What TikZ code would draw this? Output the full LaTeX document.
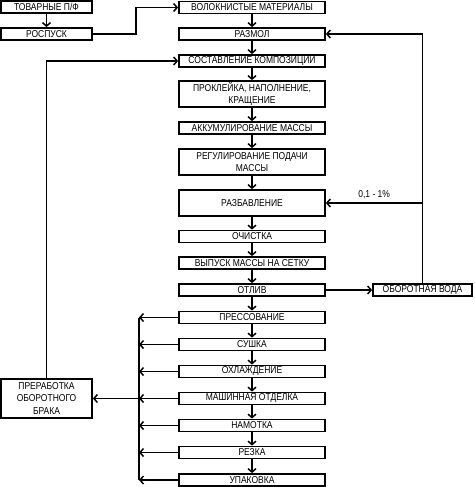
\documentclass[tikz,border=0pt]{standalone}
\usepackage{fontspec}
\setmainfont{Liberation Sans}[FakeStretch=0.85]
\usetikzlibrary{arrows.meta,positioning,calc}

\begin{document}
\begin{tikzpicture}[
  x=1pt,y=-1pt,
  font=\fontsize{10}{12.5}\selectfont,
  stage/.style={draw=black,line width=1.8pt,fill=white,align=center,inner sep=1pt,minimum width=146pt,minimum height=12pt},
  stage2/.style={stage,minimum height=26pt},
  side/.style={stage,minimum width=91pt},
  fl/.style={-{Straight Barb[length=3.5pt,width=8pt]},line width=1.5pt},
  ln/.style={line width=1.5pt}
]
\useasboundingbox (0,0) rectangle (474,487);
% main line
\node[stage] (vol) at (252,7.5) {ВОЛОКНИСТЫЕ МАТЕРИАЛЫ};
\node[stage] (razmol) at (252,34) {РАЗМОЛ};
\node[stage] (sostav) at (252,61) {СОСТАВЛЕНИЕ КОМПОЗИЦИИ};
\node[stage2] (prokl) at (252,94) {ПРОКЛЕЙКА, НАПОЛНЕНИЕ,\\КРАЩЕНИЕ};
\node[stage] (akkum) at (252,128) {АККУМУЛИРОВАНИЕ МАССЫ};
\node[stage2] (regul) at (252,162) {РЕГУЛИРОВАНИЕ ПОДАЧИ\\МАССЫ};
\node[stage2] (razbav) at (252,203) {РАЗБАВЛЕНИЕ};
\node[stage] (ochist) at (252,236.5) {ОЧИСТКА};
\node[stage] (vypusk) at (252,263) {ВЫПУСК МАССЫ НА СЕТКУ};
\node[stage] (otliv) at (252,290) {ОТЛИВ};
\node[stage] (press) at (252,317.5) {ПРЕССОВАНИЕ};
\node[stage] (sushka) at (252,344.5) {СУШКА};
\node[stage] (ohlazh) at (252,371.5) {ОХЛАЖДЕНИЕ};
\node[stage] (mash) at (252,398.5) {МАШИННАЯ ОТДЕЛКА};
\node[stage] (namotka) at (252,425.5) {НАМОТКА};
\node[stage] (rezka) at (252,452.5) {РЕЗКА};
\node[stage] (upak) at (252,480) {УПАКОВКА};
% side boxes
\node[side] (tovar) at (46.5,7) {ТОВАРНЫЕ П/Ф};
\node[side] (rospusk) at (46.5,34) {РОСПУСК};
\node[side,minimum height=39pt] (brak) at (46.5,398.5) {ПРЕРАБОТКА\\ОБОРОТНОГО\\БРАКА};
\node[stage,minimum width=99pt] (voda) at (422.5,290) {ОБОРОТНАЯ ВОДА};
\coordinate (bus) at (139,317.5);
% flow
\foreach \a/\b in {vol/razmol,razmol/sostav,sostav/prokl,prokl/akkum,akkum/regul,regul/razbav,razbav/ochist,ochist/vypusk,vypusk/otliv,otliv/press,press/sushka,sushka/ohlazh,ohlazh/mash,mash/namotka,namotka/rezka,rezka/upak}
  \draw[fl] (\a) -- (\b);
\draw[fl] (tovar) -- (rospusk);
\draw[fl] (rospusk.east) -- ++(43,0) |- (vol.west);
\draw[fl] (brak.north) |- (sostav.west);
\draw[fl] (otliv) -- (voda);
\draw[fl] (voda.north) |- (razmol.east);
\draw[fl] (voda.north |- razbav.east) -- node[above]{0,1 - 1\%} (razbav.east);
% broke collection
\foreach \n in {press,sushka,ohlazh,mash,namotka,rezka,upak}
  \draw[fl] (\n.west) -- (\n.west -| bus);
\draw[ln] (press.west -| bus) -- (upak.west -| bus);
\draw[fl] (mash.west -| bus) -- (brak.east);
\end{tikzpicture}
\end{document}
